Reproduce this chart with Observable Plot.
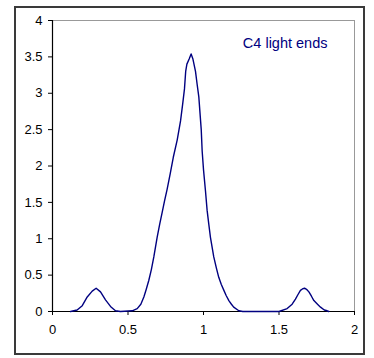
<!DOCTYPE html>
<html>
<head>
<meta charset="utf-8">
<script src="https://cdn.jsdelivr.net/npm/d3@7"></script>
<script src="https://cdn.jsdelivr.net/npm/@observablehq/plot@0.6"></script>
<style>
  html, body { margin: 0; padding: 0; background: white; }
  #wrap { position: relative; width: 374px; height: 358px; }
  #border { position: absolute; left: 14px; top: 6px; width: 347px; height: 345px; border: 2px solid #3a3a3a; pointer-events: none; }
</style>
</head>
<body>
<div id="wrap"><div id="border"></div></div>
<script>
const xs = [0.12,0.163,0.197,0.23,0.263,0.289,0.318,0.351,0.384,0.417,0.45,0.528,0.561,0.585,0.605,0.62,0.638,0.655,0.671,0.693,0.71,0.726,0.742,0.759,0.78,0.80,0.826,0.848,0.862,0.874,0.882,0.89,0.905,0.918,0.93,0.947,0.958,0.969,0.985,0.991,1.0,1.013,1.024,1.035,1.046,1.068,1.085,1.101,1.118,1.135,1.15,1.168,1.185,1.20,1.234,1.26,1.5,1.554,1.587,1.609,1.625,1.642,1.655,1.669,1.685,1.698,1.715,1.731,1.755,1.775,1.80,1.819,1.83];
const ys = [0,0.02,0.08,0.2,0.28,0.32,0.27,0.16,0.07,0.01,0,0.01,0.04,0.10,0.20,0.30,0.43,0.58,0.75,1.02,1.20,1.36,1.52,1.68,1.90,2.12,2.36,2.62,2.85,3.06,3.30,3.40,3.47,3.54,3.47,3.30,3.12,2.95,2.50,2.21,1.95,1.66,1.39,1.20,1.02,0.75,0.60,0.47,0.37,0.29,0.22,0.15,0.10,0.06,0.01,0,0,0.04,0.10,0.17,0.23,0.29,0.31,0.32,0.30,0.27,0.21,0.15,0.10,0.06,0.02,0.01,0];
const xTicks = [0, 0.5, 1, 1.5, 2];
const yTicks = [0, 0.5, 1, 1.5, 2, 2.5, 3, 3.5, 4];
const seriesLabel = "C4 light ends";

const data = xs.map((x, i) => ({x, y: ys[i]}));

const chart = Plot.plot({
  width: 374,
  height: 358,
  marginLeft: 52,
  marginRight: 20,
  marginTop: 20,
  marginBottom: 47,
  x: {domain: [0, 2]},
  y: {domain: [0, 4]},
  style: {fontFamily: "'Liberation Sans', Arial, sans-serif", fontSize: "13px", color: "black", background: "transparent"},
  marks: [
    Plot.ruleY([4], {stroke: "#999999", strokeWidth: 1}),
    Plot.ruleX([2], {stroke: "#999999", strokeWidth: 1}),
    Plot.axisX({ticks: xTicks, tickSize: 4, tickPadding: 9, tickFormat: d => String(d), label: null, stroke: "black", fill: "black"}),
    Plot.axisY({ticks: yTicks, tickSize: 4, tickPadding: 6, tickFormat: d => String(d), label: null, stroke: "black", fill: "black"}),
    Plot.ruleY([0], {stroke: "black", strokeWidth: 1.2}),
    Plot.ruleX([0], {stroke: "black", strokeWidth: 1.2}),
    Plot.line(data, {x: "x", y: "y", stroke: "#000080", strokeWidth: 1.4, curve: "linear"}),
    Plot.text([seriesLabel], {frameAnchor: "top-right", dx: -27, dy: 17, textAnchor: "end", lineAnchor: "top", fill: "#000080", fontSize: 14.5})
  ]
});
document.getElementById("wrap").prepend(chart);
</script>
</body>
</html>
